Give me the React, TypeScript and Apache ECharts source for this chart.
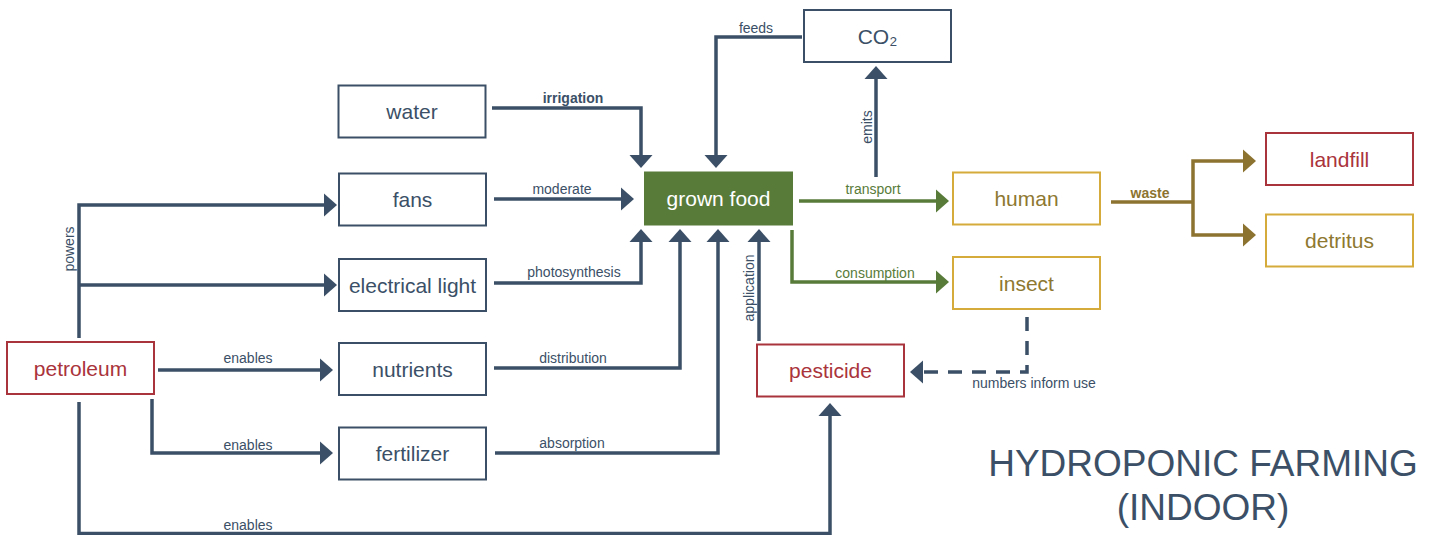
import React, { useEffect, useRef } from "react";
import * as echarts from "echarts";

// ---------- colours ----------
const SLATE = "#3b5067";
const RED = "#aa343b";
const GOLD_BORDER = "#d5ab3c";
const GOLD_TEXT = "#8e7831";
const GREEN = "#587b3a";
const OLIVE = "#8c7330";
const FONT = "'Liberation Sans', Arial, Helvetica, sans-serif";

// ---------- nodes (diagram coordinates) ----------
const nodeNames = [
  "water", "fans", "electrical light", "nutrients", "fertilizer", "petroleum",
  "grown food", "CO₂", "human", "insect", "landfill", "detritus", "pesticide",
];
const nodeX = [412, 412.5, 412.5, 412.5, 412.5, 80.5, 718.5, 877.5, 1026.5, 1026.5, 1339.5, 1339.5, 830.5];
const nodeY = [111.5, 199.5, 285, 369, 453.5, 368, 198.5, 36, 198.5, 283, 159, 240.5, 370.5];
const nodeKind = [
  "base", "base", "base", "base", "base", "hazard",
  "core", "base", "gold", "gold", "hazard", "gold", "hazard",
];

// ---------- connectors ----------
const linkPaths: number[][][] = [
  [[492, 108], [641, 108], [641, 168]], // irrigation
  [[802, 37], [716, 37], [716, 168]], // feeds
  [[494, 199], [634, 199]], // moderate
  [[494, 283], [641, 283], [641, 229]], // photosynthesis
  [[494, 368], [680, 368], [680, 229]], // distribution
  [[495, 453], [718, 453], [718, 229]], // absorption
  [[759, 341], [759, 229]], // application
  [[876, 177], [876, 66]], // emits
  [[799, 201], [949, 201]], // transport
  [[792, 230], [792, 282], [949, 282]], // consumption
  [[79, 338], [79, 205], [337, 205]], // powers -> fans
  [[79, 285], [337, 285]], // powers -> electrical light
  [[158, 370], [333, 370]], // enables nutrients
  [[152, 399], [152, 453], [333, 453]], // enables fertilizer
  [[79, 402], [79, 533.5], [830, 533.5], [830, 403]], // enables pesticide
  [[1027, 317], [1027, 372], [910, 372]], // numbers inform use
  [[1111, 202], [1193, 202]], // waste trunk
  [[1193, 202], [1193, 161], [1256, 161]], // waste -> landfill
  [[1193, 202], [1193, 235], [1256, 235]], // waste -> detritus
];
const linkKind = [
  "base", "base", "base", "base", "base", "base", "base", "base",
  "green", "green", "base", "base", "base", "base", "base",
  "dashed", "waste", "waste", "waste",
];
const linkHead = [
  true, true, true, true, true, true, true, true, true, true,
  true, true, true, true, true, true, false, true, true,
];
const linkLabels = [
  "irrigation", "feeds", "moderate", "photosynthesis", "distribution", "absorption",
  "application", "emits", "transport", "consumption", "powers", "",
  "enables", "enables", "enables", "numbers inform use", "waste", "", "",
];
const labelX = [573, 756, 562, 574, 573, 572, 749, 867, 873, 875, 69, 0, 248, 248, 248, 1034, 1150, 0, 0];
const labelY = [98, 28, 189, 272, 358, 443, 288, 127, 189, 273, 249, 0, 358, 445, 525, 383, 193, 0, 0];
const labelVertical = [
  false, false, false, false, false, false, true, true, false, false, true, false,
  false, false, false, false, false, false, false,
];
const labelBold = [
  true, false, false, false, false, false, false, false, false, false, false, false,
  false, false, false, false, true, false, false,
];

const titleLines = ["HYDROPONIC FARMING", "(INDOOR)"];

const BOX_W = 147;
const BOX_H = 52;
const HEAD_L = 13;
const HEAD_HW = 11.5;
const LINE_W = 3.5;

const NODE_STYLE: Record<string, { fill: string; stroke: string; text: string }> = {
  base: { fill: "#ffffff", stroke: SLATE, text: SLATE },
  hazard: { fill: "#ffffff", stroke: RED, text: RED },
  gold: { fill: "#ffffff", stroke: GOLD_BORDER, text: GOLD_TEXT },
  core: { fill: GREEN, stroke: GREEN, text: "#ffffff" },
};
const LINK_COLOR: Record<string, string> = {
  base: SLATE,
  dashed: SLATE,
  green: GREEN,
  waste: OLIVE,
};

export default function App() {
  const ref = useRef<HTMLDivElement>(null);

  useEffect(() => {
    if (!ref.current) return;
    const chart = echarts.init(ref.current, undefined, { renderer: "svg" });

    const option: any = {
      animation: false,
      backgroundColor: "#ffffff",
      grid: { left: 0, right: 0, top: 0, bottom: 0 },
      xAxis: { type: "value", min: 0, max: 1430, show: false },
      yAxis: { type: "value", min: 0, max: 535, inverse: true, show: false },
      graphic: [
        {
          type: "text",
          x: 1203,
          y: 485,
          style: {
            text: titleLines.join("\n"),
            fill: SLATE,
            fontSize: 37,
            fontFamily: FONT,
            lineHeight: 44,
            align: "center",
            verticalAlign: "middle",
          },
        },
      ],
      series: [
        {
          type: "custom",
          coordinateSystem: "cartesian2d",
          clip: false,
          encode: { x: 0, y: 1 },
          data: linkPaths.map((p, i) => [p[0][0], p[0][1], i]),
          renderItem: (params: any, api: any) => {
            const i = params.dataIndex;
            const color = LINK_COLOR[linkKind[i]];
            const pts = linkPaths[i].map((p) => api.coord(p));
            const n = pts.length;
            const children: any[] = [];
            let linePts = pts;
            if (linkHead[i]) {
              const tip = pts[n - 1];
              const prev = pts[n - 2];
              const dx = tip[0] - prev[0];
              const dy = tip[1] - prev[1];
              const len = Math.hypot(dx, dy) || 1;
              const ux = dx / len;
              const uy = dy / len;
              const bx = tip[0] - ux * HEAD_L;
              const by = tip[1] - uy * HEAD_L;
              linePts = pts.slice(0, n - 1).concat([[bx + ux, by + uy]]);
              children.push({
                type: "polygon",
                shape: {
                  points: [
                    [tip[0], tip[1]],
                    [bx - uy * HEAD_HW, by + ux * HEAD_HW],
                    [bx + uy * HEAD_HW, by - ux * HEAD_HW],
                  ],
                },
                style: { fill: color, stroke: "none" },
              });
            }
            children.unshift({
              type: "polyline",
              shape: { points: linePts },
              style: {
                stroke: color,
                lineWidth: LINE_W,
                fill: "none",
                lineJoin: "miter",
                lineCap: "butt",
                lineDash: linkKind[i] === "dashed" ? [14, 10] : null,
              },
            });
            if (linkLabels[i]) {
              const lp = api.coord([labelX[i], labelY[i]]);
              children.push({
                type: "text",
                x: lp[0],
                y: lp[1],
                rotation: labelVertical[i] ? Math.PI / 2 : 0,
                style: {
                  text: linkLabels[i],
                  fill: linkKind[i] === "green" || linkKind[i] === "waste" ? color : SLATE,
                  fontSize: 14,
                  fontFamily: FONT,
                  fontWeight: labelBold[i] ? "bold" : "normal",
                  align: "center",
                  verticalAlign: "middle",
                },
              });
            }
            return { type: "group", children };
          },
        },
        {
          type: "custom",
          coordinateSystem: "cartesian2d",
          clip: false,
          encode: { x: 0, y: 1 },
          data: nodeNames.map((_, i) => [nodeX[i], nodeY[i]]),
          renderItem: (params: any, api: any) => {
            const i = params.dataIndex;
            const c = api.coord([api.value(0), api.value(1)]);
            const st = NODE_STYLE[nodeKind[i]];
            return {
              type: "group",
              children: [
                {
                  type: "rect",
                  shape: { x: c[0] - BOX_W / 2, y: c[1] - BOX_H / 2, width: BOX_W, height: BOX_H },
                  style: { fill: st.fill, stroke: st.stroke, lineWidth: 2 },
                },
                {
                  type: "text",
                  x: c[0],
                  y: c[1],
                  style: {
                    text: nodeNames[i],
                    fill: st.text,
                    fontSize: 21,
                    fontFamily: FONT,
                    align: "center",
                    verticalAlign: "middle",
                  },
                },
              ],
            };
          },
        },
      ],
    };

    chart.setOption(option);
    return () => chart.dispose();
  }, []);

  return (
    <div
      ref={ref}
      style={{ position: "absolute", left: 0, top: 0, width: 1430, height: 535 }}
    />
  );
}
